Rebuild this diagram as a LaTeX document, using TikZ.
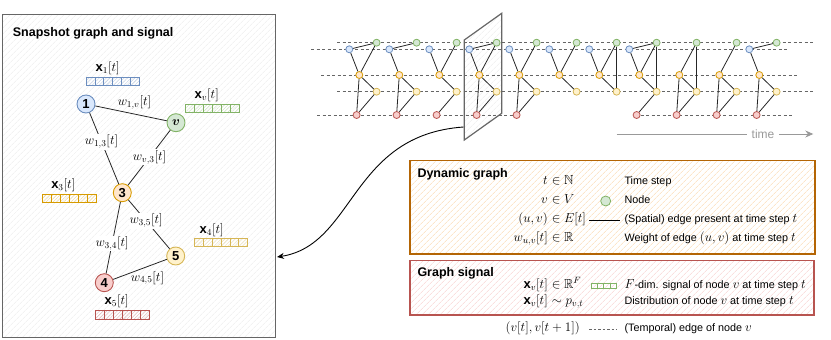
\RequirePackage{fix-cm}
\documentclass[tikz,border=0pt]{standalone}
\usepackage{amsmath}
\usepackage{amssymb}
\usepackage{bm}
\usepackage{fontspec}
\setmainfont{Liberation Sans}
\usepackage{xcolor}
\usetikzlibrary{arrows.meta,patterns.meta}

\definecolor{bluefill}{HTML}{DAE8FC}
\definecolor{bluedraw}{HTML}{6C8EBF}
\definecolor{greenfill}{HTML}{D5E8D4}
\definecolor{greendraw}{HTML}{82B366}
\definecolor{orangefill}{HTML}{FFE6CC}
\definecolor{orangedraw}{HTML}{D79B00}
\definecolor{yellowfill}{HTML}{FFF2CC}
\definecolor{yellowdraw}{HTML}{D6B656}
\definecolor{redfill}{HTML}{F8CECC}
\definecolor{reddraw}{HTML}{B85450}
\definecolor{greydraw}{HTML}{666666}
\definecolor{greyhatch}{HTML}{EBEBEB}
\definecolor{dyndraw}{HTML}{B46504}
\definecolor{dynhatch}{HTML}{FAD7AC}
\definecolor{sigdraw}{HTML}{B85450}
\definecolor{sighatch}{HTML}{F8CECC}
\definecolor{timegrey}{HTML}{999999}

% math inside the legend texts
\newcommand{\descmath}[1]{{\fontsize{13}{13}\selectfont$#1$}}

\begin{document}
\begin{tikzpicture}[x=1pt,y=-1pt,font=\fontsize{13}{15}\selectfont,
  panel/.style={draw=#1draw,line width=1.2pt,pattern={Lines[angle=45,distance=4pt,line width=0.6pt]},pattern color=#1hatch,inner sep=0pt},
  title/.style={anchor=base west,inner sep=0pt,font=\bfseries\fontsize{12.5}{15}\selectfont},
  tnode/.style={circle,draw=#1draw,fill=#1fill,line width=0.8pt,minimum size=7pt,inner sep=0pt},
  gnode/.style={circle,draw=#1draw,fill=#1fill,line width=0.9pt,minimum size=18pt,inner sep=0pt},
  link/.style={draw=black!85,line width=0.8pt},
  guide/.style={draw=greydraw,line width=0.8pt,dash pattern=on 3pt off 2.5pt},
  cell/.style={draw=#1draw,line width=0.8pt,pattern={Lines[angle=45,distance=2.5pt,line width=0.4pt]},pattern color=#1draw!45},
  onlabel/.style={fill=white,inner sep=1pt},
  lhs/.style={anchor=mid east,inner sep=0pt,font=\fontsize{13}{15}\selectfont},
  rhs/.style={anchor=mid west,inner sep=0pt,font=\fontsize{13}{15}\selectfont},
  desc/.style={anchor=mid west,inner sep=0pt,font=\fontsize{10.8}{13}\selectfont}]
\useasboundingbox (0,0) rectangle (831,340);

% snapshot panel
\node[panel=grey,anchor=north west,minimum width=273,minimum height=323] (snapbox) at (2,14) {};
\node[title] (snaptitle) at (12.7,36.7) {Snapshot graph and signal};

\node[gnode=blue] (n1) at (86,104) {$\mathbf{1}$};
\node[gnode=green] (nv) at (176,122.7) {$\bm{v}$};
\node[gnode=orange] (n3) at (122.3,192.7) {$\mathbf{3}$};
\node[gnode=yellow] (n5) at (175.7,256) {$\mathbf{5}$};
\node[gnode=red] (n4) at (104.3,282.7) {$\mathbf{4}$};

\draw[link] (n1) -- node[above=1pt,pos=0.55] (w1v) {$w_{1,v}[t]$} (nv);
\draw[link] (n1) -- node[onlabel,pos=0.41] (w13) {$w_{1,3}[t]$} (n3);
\draw[link] (nv) -- node[onlabel,pos=0.49] (wv3) {$w_{v,3}[t]$} (n3);
\draw[link] (n3) -- node[onlabel,pos=0.43] (w35) {$w_{3,5}[t]$} (n5);
\draw[link] (n3) -- node[onlabel,pos=0.58] (w34) {$w_{3,4}[t]$} (n4);
\draw[link] (n4) -- node[below=1pt,pos=0.64] (w45) {$w_{4,5}[t]$} (n5);

% signal bars
\foreach \bx/\by/\c in {86/77.3/blue,185.7/104/green,42.7/194/orange,194.3/238.3/yellow,95.7/310.7/red}
  \foreach \k in {0,...,5}
    \draw[cell=\c] ({\bx+8.9*\k},\by) rectangle ++(8.9,8.4);
\node (x1) at (107.7,68.3) {$\mathbf{x}_1[t]$};
\node (xv) at (206.7,95.7) {$\mathbf{x}_v[t]$};
\node (x3) at (63.3,185) {$\mathbf{x}_3[t]$};
\node (x4) at (211.7,230) {$\mathbf{x}_4[t]$};
\node (x5) at (116.7,301.7) {$\mathbf{x}_5[t]$};

% dynamic graph over time
\draw[draw=greydraw,line width=1.2pt,pattern={Lines[angle=45,distance=4pt,line width=0.5pt]},pattern color=greyhatch]
  (464.3,40) -- (501.7,13.3) -- (501.7,113.3) -- (464.3,140) -- cycle;
\draw[guide] (337,42.7) -- (813,42.7);
\draw[guide] (311,49.3) -- (787,49.3);
\draw[guide] (321,75) -- (797,75);
\draw[guide] (337,91.7) -- (813,91.7);
\draw[guide] (317,115) -- (516,115);
\draw[guide] (635,115) -- (793,115);

\foreach \i in {1,...,11}{
  \pgfmathsetmacro{\sx}{349.3+40*(\i-1)}
  \node[tnode=green] (g\i) at (\sx+27.3,42.7) {};
  \node[tnode=orange] (o\i) at (\sx+10,75) {};
  \node[tnode=yellow] (y\i) at (\sx+27.3,91.7) {};
}
\foreach \i in {1,...,8,11}{
  \pgfmathsetmacro{\sx}{349.3+40*(\i-1)}
  \node[tnode=blue] (b\i) at (\sx,49.3) {};
}
\foreach \i in {1,...,5,8,9,10,11}{
  \pgfmathsetmacro{\sx}{349.3+40*(\i-1)}
  \node[tnode=red] (r\i) at (\sx+7.3,115) {};
}
\foreach \i/\pairs in {1/{b/g,b/o,g/o,o/y,o/r,y/r},2/{b/g,b/o,o/y,o/r,y/r},3/{b/o,g/o,o/y,y/r},
    4/{b/g,b/o,g/o,o/y,o/r,y/r},5/{b/o,g/o,o/y,o/r,y/r},6/{b/o,g/o,o/y},7/{b/o,g/o,o/y,g/y},
    8/{b/g,b/o,g/o,o/y,g/y,y/r},9/{g/o,g/y,o/y,o/r,y/r},10/{g/o,o/y,o/r,y/r},11/{b/g,b/o,o/y,o/r,y/r}}
  \foreach \p/\q in \pairs
    \draw[link] (\p\i) -- (\q\i);

% time axis
\coordinate (tstart) at (616.7,134);
\coordinate (tend) at (813.3,134);
\node[text=timegrey,inner sep=4.5pt,font=\fontsize{12}{14}\selectfont] (timetxt) at (763,134) {time};
\draw[timegrey,line width=1pt] (tstart) -- (timetxt);
\draw[timegrey,line width=1pt,-{Stealth[length=8pt,width=7pt]}] (timetxt) -- (tend);

% slice to snapshot
\coordinate (planeout) at (463.5,127);
\coordinate (snapin) at (277,257);
\draw[black,line width=0.9pt,-{Stealth[length=7pt,width=6pt]}] (planeout) .. controls (350,135) and (355,245) .. (snapin);

% legend: dynamic graph
\node[panel=dyn,anchor=north west,minimum width=405,minimum height=93.3] (dynbox) at (409.3,160) {};
\node[title] (dyntitle) at (417.3,177.7) {Dynamic graph};
\node[lhs] (tl) at (548,181.7) {$t$};
\node[rhs] (tr) at (548,181.7) {${}\in\mathbb{N}$};
\node[desc] (td) at (624.3,181.7) {Time step};
\node[lhs] (vl) at (548,201) {$v$};
\node[rhs] (vr) at (548,201) {${}\in V$};
\node[tnode=green,minimum size=10pt] (legnode) at (605.7,201) {};
\node[desc] (vd) at (624.3,201) {Node};
\node[lhs] (el) at (548,220) {$(u,v)$};
\node[rhs] (er) at (548,220) {${}\in E[t]$};
\draw[black,line width=0.9pt] (589.3,220) -- (620,220);
\node[desc] (ed) at (624.3,220) {(Spatial) edge present at time step \descmath{t}};
\node[lhs] (wl) at (548,239) {$w_{u,v}[t]$};
\node[rhs] (wr) at (548,239) {${}\in\mathbb{R}$};
\node[desc] (wd) at (624.3,239) {Weight of edge \descmath{(u,v)} at time step \descmath{t}};

% legend: graph signal
\node[panel=sig,anchor=north west,minimum width=404,minimum height=54.3] (sigbox) at (409.3,260) {};
\node[title] (sigtitle) at (417.3,276.7) {Graph signal};
\node[lhs] (xl) at (548,285.7) {$\mathbf{x}_v[t]$};
\node[rhs] (xr) at (548,285.7) {${}\in\mathbb{R}^F$};
\foreach \k in {0,...,3}
  \draw[greendraw,line width=0.8pt] ({591+6.4*\k},283.2) rectangle ++(6.4,5.2);
\node[desc] (xd) at (624.3,285.7) {\descmath{F}-dim. signal of node \descmath{v} at time step \descmath{t}};
\node[lhs] (pl) at (548,301.7) {$\mathbf{x}_v[t]$};
\node[rhs] (pr) at (548,301.7) {${}\sim p_{v,t}$};
\node[desc] (pd) at (624.3,301.7) {Distribution of node \descmath{v} at time step \descmath{t}};

\node[lhs] (templ) at (580,329) {$(v[t],v[t+1])$};
\draw[greydraw,line width=0.8pt,dash pattern=on 2.5pt off 2pt] (589,329) -- (617,329);
\node[desc] (tempd) at (624.3,329) {(Temporal) edge of node \descmath{v}};
\end{tikzpicture}
\end{document}
